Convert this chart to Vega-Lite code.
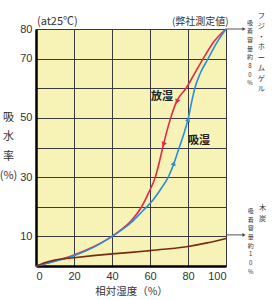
{
  "$schema": "https://vega.github.io/schema/vega-lite/v6.json",
  "width": 190,
  "height": 237,
  "autosize": "none",
  "padding": {"left": 36, "top": 29, "right": 49, "bottom": 34},
  "background": "white",
  "config": {
    "font": "Noto Sans CJK JP",
    "view": {"fill": "#f7f2b6", "stroke": null}
  },
  "resolve": {"axis": {"x": "independent", "y": "independent"}},
  "datasets": {
    "curves": [
      {"series": "放湿", "rh": 0, "w": 0},
      {"series": "放湿", "rh": 10, "w": 1.7},
      {"series": "放湿", "rh": 20, "w": 3.7},
      {"series": "放湿", "rh": 30, "w": 6.4},
      {"series": "放湿", "rh": 40, "w": 10},
      {"series": "放湿", "rh": 45, "w": 12.4},
      {"series": "放湿", "rh": 50, "w": 15.2},
      {"series": "放湿", "rh": 55.6, "w": 20},
      {"series": "放湿", "rh": 59.5, "w": 25},
      {"series": "放湿", "rh": 62.8, "w": 30},
      {"series": "放湿", "rh": 64.9, "w": 35},
      {"series": "放湿", "rh": 66.7, "w": 40},
      {"series": "放湿", "rh": 70.9, "w": 50},
      {"series": "放湿", "rh": 74.2, "w": 55.8},
      {"series": "放湿", "rh": 79, "w": 60},
      {"series": "放湿", "rh": 83.5, "w": 65},
      {"series": "放湿", "rh": 88, "w": 70},
      {"series": "放湿", "rh": 94, "w": 76},
      {"series": "放湿", "rh": 100, "w": 80},
      {"series": "吸湿", "rh": 0, "w": 0},
      {"series": "吸湿", "rh": 10, "w": 1.6},
      {"series": "吸湿", "rh": 20, "w": 3.5},
      {"series": "吸湿", "rh": 30, "w": 6.2},
      {"series": "吸湿", "rh": 40, "w": 10},
      {"series": "吸湿", "rh": 50, "w": 14.6},
      {"series": "吸湿", "rh": 56, "w": 18.5},
      {"series": "吸湿", "rh": 61.6, "w": 22.3},
      {"series": "吸湿", "rh": 65.7, "w": 26},
      {"series": "吸湿", "rh": 69.6, "w": 30},
      {"series": "吸湿", "rh": 72.8, "w": 35},
      {"series": "吸湿", "rh": 75.4, "w": 40},
      {"series": "吸湿", "rh": 78, "w": 45},
      {"series": "吸湿", "rh": 80.2, "w": 50},
      {"series": "吸湿", "rh": 81.8, "w": 55},
      {"series": "吸湿", "rh": 83.6, "w": 60},
      {"series": "吸湿", "rh": 86.4, "w": 65},
      {"series": "吸湿", "rh": 90.6, "w": 70},
      {"series": "吸湿", "rh": 94.8, "w": 75},
      {"series": "吸湿", "rh": 100, "w": 80},
      {"series": "木炭", "rh": 0, "w": 0},
      {"series": "木炭", "rh": 5, "w": 1.2},
      {"series": "木炭", "rh": 10, "w": 2},
      {"series": "木炭", "rh": 20, "w": 2.8},
      {"series": "木炭", "rh": 30, "w": 3.5},
      {"series": "木炭", "rh": 40, "w": 4.1},
      {"series": "木炭", "rh": 50, "w": 4.6},
      {"series": "木炭", "rh": 60, "w": 5.2},
      {"series": "木炭", "rh": 70, "w": 5.8},
      {"series": "木炭", "rh": 80, "w": 6.6},
      {"series": "木炭", "rh": 90, "w": 7.8},
      {"series": "木炭", "rh": 100, "w": 9.3}
    ],
    "heads": [
      {"series": "放湿", "rh": 74.2, "w": 55.5},
      {"series": "放湿", "rh": 67.1, "w": 41},
      {"series": "吸湿", "rh": 80.2, "w": 49.5},
      {"series": "吸湿", "rh": 72.6, "w": 34.7}
    ]
  },
  "layer": [
    {
      "data": {"name": "curves"},
      "mark": {"type": "line", "interpolate": "monotone", "strokeWidth": 1.6},
      "encoding": {
        "x": {
          "field": "rh", "type": "quantitative",
          "scale": {"domain": [0, 100], "nice": false, "zero": false},
          "axis": {
            "values": [0, 20, 40, 60, 80, 100],
            "title": "相対湿度（%）",
            "titleFontSize": 10.5, "titleFontWeight": "normal", "titleColor": "#333",
            "titlePadding": 5,
            "labelFont": "Liberation Sans",
            "labelFontSize": 11, "labelColor": "#333", "labelPadding": 4,
            "ticks": false,
            "domainColor": "#000", "domainWidth": 2.5,
            "grid": true, "gridColor": "#3a3a3a", "gridWidth": 1, "gridOpacity": 1
          }
        },
        "y": {
          "field": "w", "type": "quantitative",
          "scale": {"domain": [0, 80], "nice": false, "zero": false},
          "axis": {
            "values": [0, 10, 20, 30, 40, 50, 60, 70, 80],
            "labelExpr": "indexof([10,30,50,70,80], datum.value) >= 0 ? datum.label : ''",
            "title": ["吸", "水", "率", "(%)"],
            "titleAngle": 0, "titleAlign": "center", "titleBaseline": "top",
            "titleX": -28, "titleY": 82, "titleLineHeight": 19.5,
            "titleFontSize": 11, "titleFontWeight": "normal", "titleColor": "#333",
            "labelFont": "Liberation Sans",
            "labelFontSize": 11, "labelColor": "#333", "labelPadding": 4,
            "ticks": false,
            "domainColor": "#000", "domainWidth": 2.5,
            "grid": true, "gridColor": "#3a3a3a", "gridWidth": 1, "gridOpacity": 1
          }
        },
        "color": {
          "field": "series", "type": "nominal",
          "scale": {"domain": ["放湿", "吸湿", "木炭"], "range": ["#e02a45", "#2a8fd6", "#7a2a14"]},
          "legend": null
        }
      }
    },
    {
      "data": {"name": "heads"},
      "mark": {"type": "point", "filled": true, "opacity": 1, "size": 30, "angle": 20},
      "encoding": {
        "x": {"field": "rh", "type": "quantitative", "axis": null},
        "y": {"field": "w", "type": "quantitative", "axis": null},
        "color": {"field": "series", "type": "nominal", "legend": null},
        "shape": {
          "field": "series", "type": "nominal",
          "scale": {"domain": ["放湿", "吸湿"], "range": ["triangle-down", "triangle-up"]},
          "legend": null
        }
      }
    },
    {
      "data": {"values": [{}]},
      "mark": {"type": "text", "text": "放湿", "fontSize": 11, "fontWeight": "bold", "color": "#222"},
      "encoding": {"x": {"datum": 66.3, "type": "quantitative", "axis": null}, "y": {"datum": 57.1, "type": "quantitative", "axis": null}}
    },
    {
      "data": {"values": [{}]},
      "mark": {"type": "text", "text": "吸湿", "fontSize": 11, "fontWeight": "bold", "color": "#222"},
      "encoding": {"x": {"datum": 85.8, "type": "quantitative", "axis": null}, "y": {"datum": 42.2, "type": "quantitative", "axis": null}}
    },
    {
      "data": {"values": [{}]},
      "mark": {"type": "text", "text": "(at25℃)", "fontSize": 11, "align": "left", "color": "#333"},
      "encoding": {"x": {"datum": 0.5, "type": "quantitative", "axis": null}, "y": {"datum": 82.3, "type": "quantitative", "axis": null}}
    },
    {
      "data": {"values": [{}]},
      "mark": {"type": "text", "text": "(弊社測定値)", "fontSize": 10, "align": "center", "color": "#333"},
      "encoding": {"x": {"datum": 86.5, "type": "quantitative", "axis": null}, "y": {"datum": 82.3, "type": "quantitative", "axis": null}}
    },
    {
      "data": {"values": [{}]},
      "mark": {"type": "rule", "color": "#555", "strokeWidth": 1},
      "encoding": {"x": {"datum": 100, "type": "quantitative", "axis": null}, "x2": {"datum": 109}, "y": {"datum": 80, "type": "quantitative", "axis": null}}
    },
    {
      "data": {"values": [{}]},
      "mark": {"type": "rule", "color": "#555", "strokeWidth": 1},
      "encoding": {"x": {"datum": 100.5, "type": "quantitative", "axis": null}, "x2": {"datum": 109}, "y": {"datum": 10.5, "type": "quantitative", "axis": null}}
    },
    {
      "data": {"values": [{}]},
      "mark": {"type": "point", "shape": "triangle-right", "filled": true, "color": "#444", "opacity": 1, "size": 14},
      "encoding": {"x": {"datum": 109.5, "type": "quantitative", "axis": null}, "y": {"datum": 80, "type": "quantitative", "axis": null}}
    },
    {
      "data": {"values": [{}]},
      "mark": {"type": "point", "shape": "triangle-right", "filled": true, "color": "#444", "opacity": 1, "size": 14},
      "encoding": {"x": {"datum": 109.5, "type": "quantitative", "axis": null}, "y": {"datum": 10.5, "type": "quantitative", "axis": null}}
    },
    {
      "data": {"values": [{}]},
      "mark": {"type": "text", "text": ["フ", "ジ", "・", "ホ", "ー", "ム", "ゲ", "ル"], "fontSize": 7.2, "lineHeight": 10.5, "baseline": "top", "align": "center", "color": "#333"},
      "encoding": {"x": {"datum": 118.6, "type": "quantitative", "axis": null}, "y": {"datum": 85.8, "type": "quantitative", "axis": null}}
    },
    {
      "data": {"values": [{}]},
      "mark": {"type": "text", "text": ["吸", "着", "容", "量", "約", "8", "0", "%"], "fontSize": 6, "lineHeight": 8.7, "baseline": "top", "align": "center", "color": "#333"},
      "encoding": {"x": {"datum": 112.6, "type": "quantitative", "axis": null}, "y": {"datum": 83.2, "type": "quantitative", "axis": null}}
    },
    {
      "data": {"values": [{}]},
      "mark": {"type": "text", "text": ["木", "炭"], "fontSize": 7.2, "lineHeight": 10.5, "baseline": "top", "align": "center", "color": "#333"},
      "encoding": {"x": {"datum": 119.2, "type": "quantitative", "axis": null}, "y": {"datum": 20.8, "type": "quantitative", "axis": null}}
    },
    {
      "data": {"values": [{}]},
      "mark": {"type": "text", "text": ["吸", "着", "容", "量", "約", "1", "0", "%"], "fontSize": 6, "lineHeight": 8.7, "baseline": "top", "align": "center", "color": "#333"},
      "encoding": {"x": {"datum": 113, "type": "quantitative", "axis": null}, "y": {"datum": 19.6, "type": "quantitative", "axis": null}}
    }
  ]
}
